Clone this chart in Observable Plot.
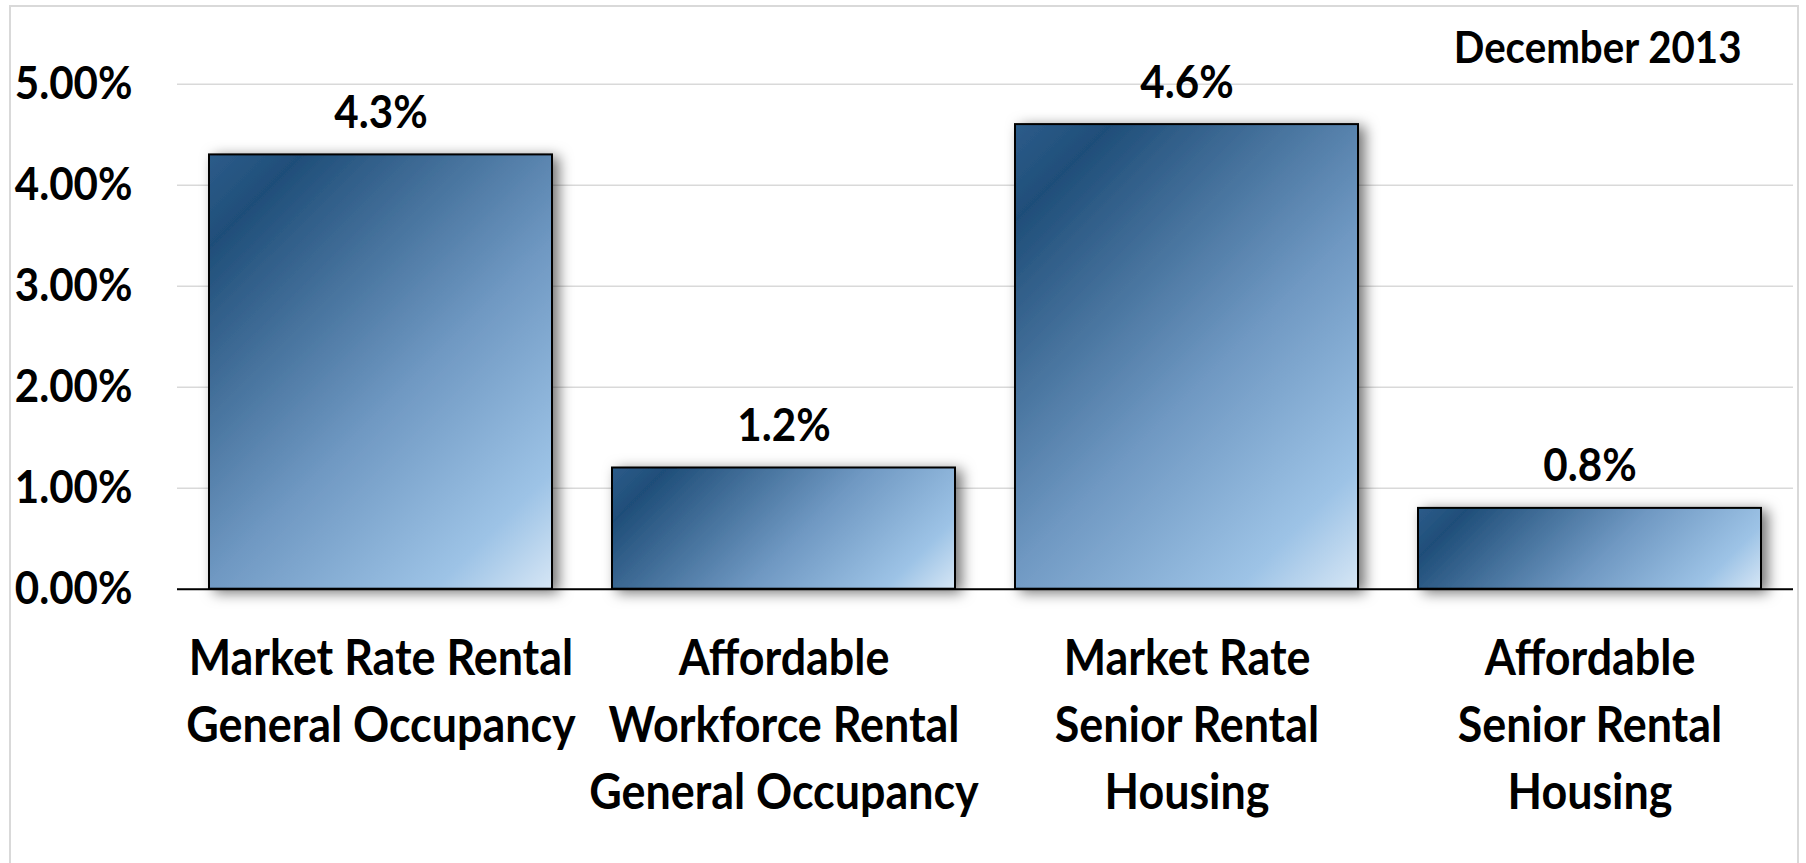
<!DOCTYPE html>
<html><head><meta charset="utf-8">
<script src="https://cdn.jsdelivr.net/npm/d3@7"></script>
<script src="https://cdn.jsdelivr.net/npm/@observablehq/plot@0.6"></script>
<style>
html,body{margin:0;padding:0;background:#fff;overflow:hidden;}
#wrap{position:relative;width:1806px;height:863px;}
#border{position:absolute;left:9px;top:5px;width:1790px;height:900px;border:2px solid #d9d9d9;box-sizing:border-box;pointer-events:none;}
</style></head><body><div id="wrap"><div id="chart"></div><div id="border"></div></div>
<script>
const categories = [
  "Market Rate Rental\nGeneral Occupancy",
  "Affordable\nWorkforce Rental\nGeneral Occupancy",
  "Market Rate\nSenior Rental\nHousing",
  "Affordable\nSenior Rental\nHousing"
];
const values = [4.3, 1.2, 4.6, 0.8];
const yTicks = [0, 1, 2, 3, 4, 5];
const subtitle = "December 2013";

const data = categories.map((c, i) => ({cat: c, val: values[i]}));
const FONT = "Lato, 'Liberation Sans', sans-serif";

const svg = Plot.plot({
  width: 1806,
  height: 863,
  marginLeft: 177,
  marginRight: 13,
  marginTop: 83.7,
  marginBottom: 274.3,
  style: {fontFamily: FONT, fontWeight: "bold", color: "#000", background: "transparent"},
  x: {domain: categories, paddingInner: 0.1485, paddingOuter: 0.0743, label: null},
  y: {domain: [0, 5], label: null},
  marks: [
    Plot.gridY(yTicks, {stroke: "#d9d9d9", strokeOpacity: 1, strokeWidth: 1.6}),
    Plot.axisY(yTicks, {tickSize: 0, tickPadding: 45, fontSize: 46, fontWeight: "bold", tickFormat: d => d.toFixed(2) + "%", label: null}),
    Plot.axisX({tickSize: 0, tickPadding: 38, fontSize: 49, fontWeight: "bold", lineHeight: 1.37, label: null}),
    Plot.barY(data, {x: "cat", y: "val", fill: "#4a78a6", stroke: "#000", strokeWidth: 2}),
    Plot.ruleY([0], {stroke: "#000", strokeWidth: 2}),
    Plot.text(data, {x: "cat", y: "val", text: d => d.val.toFixed(1) + "%", lineAnchor: "bottom", dy: -27, fontSize: 46, fontWeight: "bold", fill: "#000"}),
    Plot.text([subtitle], {frameAnchor: "top-right", textAnchor: "end", lineAnchor: "bottom", dx: -52, dy: -20.7, fontSize: 44, fontWeight: "bold", fill: "#000"})
  ]
});

// condense text horizontally (narrow face look), keeping anchors in place
svg.querySelectorAll("text").forEach(t => {
  const tr = t.getAttribute("transform") || "";
  t.setAttribute("transform", tr + " scale(0.915,1)");
});

// defs: shadow + per-bar diagonal gradients
const ns = "http://www.w3.org/2000/svg";
const defs = document.createElementNS(ns, "defs");
const filter = document.createElementNS(ns, "filter");
filter.setAttribute("id", "sh");
filter.setAttribute("filterUnits", "userSpaceOnUse");
filter.setAttribute("x", 0); filter.setAttribute("y", 0);
filter.setAttribute("width", 1806); filter.setAttribute("height", 863);
const ds = document.createElementNS(ns, "feDropShadow");
ds.setAttribute("dx", 6); ds.setAttribute("dy", 3); ds.setAttribute("stdDeviation", 7);
ds.setAttribute("flood-color", "#000"); ds.setAttribute("flood-opacity", 0.55);
filter.appendChild(ds);
defs.appendChild(filter);
svg.insertBefore(defs, svg.firstChild);

const stops = [[0, "#2d5c8a"], [0.12, "#1f4e79"], [0.55, "#6f98c2"], [0.85, "#9dc3e6"], [1, "#d6e6f5"]];
svg.querySelectorAll('g[aria-label="bar"] rect').forEach((r, i) => {
  const x = +r.getAttribute("x"), y = +r.getAttribute("y");
  const w = +r.getAttribute("width"), h = +r.getAttribute("height");
  const g = document.createElementNS(ns, "linearGradient");
  g.setAttribute("id", "g" + i);
  g.setAttribute("gradientUnits", "userSpaceOnUse");
  g.setAttribute("x1", x); g.setAttribute("y1", y);
  g.setAttribute("x2", x + (w + h) / 2); g.setAttribute("y2", y + (w + h) / 2);
  stops.forEach(([o, c]) => {
    const s = document.createElementNS(ns, "stop");
    s.setAttribute("offset", o); s.setAttribute("stop-color", c);
    g.appendChild(s);
  });
  defs.appendChild(g);
  r.setAttribute("fill", `url(#g${i})`);
  r.setAttribute("filter", "url(#sh)");
});

document.getElementById("chart").appendChild(svg);
</script>
</body></html>
